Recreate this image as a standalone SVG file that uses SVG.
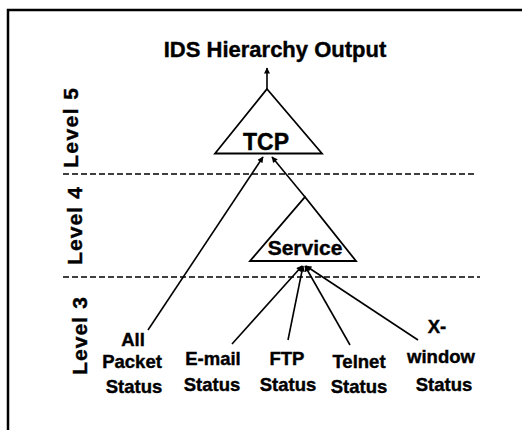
<svg xmlns="http://www.w3.org/2000/svg" width="522" height="430" viewBox="0 0 522 430">
<defs>
<marker id="ah" viewBox="0 0 10 10" refX="9" refY="5" markerWidth="7" markerHeight="6" markerUnits="userSpaceOnUse" orient="auto">
<path d="M0,0 L10,5 L0,10 z" fill="#000"/>
</marker>
<style>
.t{font-family:"Liberation Sans",Arial,sans-serif;font-weight:bold;fill:#000;text-anchor:middle;stroke:#000;stroke-width:0.4}
.lbl{font-size:18.5px}
.lev{font-size:21px}
.tri{fill:#fff;stroke:#000;stroke-width:1.8}
.dash{stroke:#000;stroke-width:1.6;stroke-dasharray:6 3;fill:none}
.con{stroke:#000;stroke-width:1.6;fill:none;marker-end:url(#ah)}
</style>
</defs>
<rect width="522" height="430" fill="#fff"/>
<path d="M8,430 V10 H522" fill="none" stroke="#000" stroke-width="2.5"/>
<text class="t" x="275" y="57" font-size="22">IDS Hierarchy Output</text>
<line class="dash" x1="63" y1="174" x2="474" y2="174"/>
<line class="dash" x1="63" y1="277" x2="480" y2="277"/>
<text class="t lev" transform="translate(78,128) rotate(-90)" textLength="80" lengthAdjust="spacing">Level 5</text>
<text class="t lev" transform="translate(82,226) rotate(-90)" textLength="78" lengthAdjust="spacing">Level 4</text>
<text class="t lev" transform="translate(87,336) rotate(-90)" textLength="78" lengthAdjust="spacing">Level 3</text>
<g id="connectors">
<line class="con" x1="267" y1="89" x2="267" y2="68"/>
<line class="con" x1="148" y1="330" x2="263" y2="157"/>
<line class="con" x1="305" y1="197" x2="272" y2="157"/>
<line class="con" x1="232" y1="344" x2="302" y2="266"/>
<line class="con" x1="288" y1="340" x2="303" y2="266"/>
<line class="con" x1="350" y1="345" x2="305" y2="266"/>
<line class="con" x1="418" y1="340" x2="306" y2="266"/>
</g>
<g id="tcp">
<polygon class="tri" points="267,89 322,153.5 215,153.5"/>
<text class="t" x="266" y="150" font-size="23">TCP</text>
</g>
<g id="service">
<polygon class="tri" points="305,197 356,261 250,261"/>
<text class="t" x="305" y="255" font-size="21">Service</text>
</g>
<g id="allpacket">
<text class="t lbl" x="133" y="346">All</text>
<text class="t lbl" x="132" y="368">Packet</text>
<text class="t lbl" x="134" y="393">Status</text>
</g>
<g id="email">
<text class="t lbl" x="213" y="365">E-mail</text>
<text class="t lbl" x="212" y="391">Status</text>
</g>
<g id="ftp">
<text class="t lbl" x="287" y="365">FTP</text>
<text class="t lbl" x="288" y="391">Status</text>
</g>
<g id="telnet">
<text class="t lbl" x="359" y="368">Telnet</text>
<text class="t lbl" x="359" y="393">Status</text>
</g>
<g id="xwindow">
<text class="t lbl" x="437" y="333">X-</text>
<text class="t lbl" x="441" y="363">window</text>
<text class="t lbl" x="444" y="391">Status</text>
</g>
</svg>
